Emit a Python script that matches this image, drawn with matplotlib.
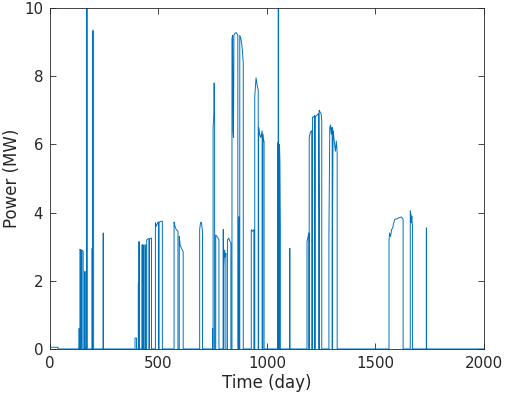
import numpy as np
import matplotlib
matplotlib.use('Agg')
import matplotlib.pyplot as plt

# Power bursts: each burst is a list of (day, MW) knots,
# the signal sits at zero between bursts
burst_days = [
    [0, 37],
    [134, 135],
    [138, 140, 142], [144, 145], [147, 150, 153],
    [160, 162],
    [168, 172],
    [194, 195], [196, 198, 201],
    [245, 246],
    [392, 399],
    [407, 409], [410, 411],
    [424, 426], [428, 430],
    [437, 441],
    [446, 450, 456],
    [459, 463, 468],
    [486, 490, 493, 496, 500],
    [503, 510, 518],
    [572, 576, 582, 590],
    [596, 600, 606, 614],
    [690, 694, 698, 703],
    [749, 750], [752, 755, 757, 759],
    [764, 770, 779],
    [798, 800], [802, 805, 808, 811],
    [818, 824, 830, 834],
    [839, 842, 844, 846, 848, 852, 858, 866],
    [870, 872],
    [875, 880, 885, 891],
    [928, 934, 940],
    [944, 947, 950, 956, 960],
    [962, 966, 972, 978],
    [981, 984, 987],
    [1050, 1051], [1052, 1054], [1055, 1057], [1058, 1060, 1062],
    [1105, 1106],
    [1185, 1190, 1194],
    [1195, 1200, 1207],
    [1210, 1215, 1221],
    [1222, 1230, 1238, 1240],
    [1241, 1245, 1250, 1253],
    [1286, 1290, 1293, 1297, 1301],
    [1302, 1305, 1307, 1312, 1316, 1320, 1324],
    [1563, 1566, 1570, 1575, 1580, 1585, 1590, 1600, 1610, 1620, 1628],
    [1661, 1664, 1666, 1668, 1671],
    [1735, 1736],
]
burst_power = [
    [0.05, 0.05],
    [0.6, 0.6],
    [2.92, 2.9, 2.9], [2.9, 2.9], [2.9, 2.88, 2.86],
    [2.27, 2.27],
    [10.3, 10.3],
    [2.95, 2.95], [9.3, 9.35, 9.3],
    [3.4, 3.4],
    [0.32, 0.32],
    [1.93, 1.93], [3.15, 3.15],
    [3.05, 3.05], [3.05, 3.05],
    [3.05, 3.05],
    [3.2, 3.22, 3.23],
    [3.23, 3.24, 3.25],
    [3.7, 3.6, 3.65, 3.7, 3.72],
    [3.72, 3.74, 3.75],
    [3.72, 3.6, 3.5, 3.45],
    [3.3, 3.05, 2.95, 2.85],
    [3.5, 3.7, 3.72, 3.45],
    [0.6, 0.6], [6.5, 6.8, 7.8, 6.7],
    [3.34, 3.3, 3.2],
    [3.5, 3.5], [2.4, 2.9, 2.7, 2.8],
    [3.2, 3.25, 3.15, 3.1],
    [9.1, 9.2, 6.4, 6.2, 9.2, 9.25, 9.28, 9.2],
    [3.87, 3.87],
    [9.2, 9.1, 8.9, 8.4],
    [3.5, 3.45, 3.5],
    [7.4, 7.7, 7.95, 7.7, 7.6],
    [6.5, 6.3, 6.2, 6.4],
    [6.3, 6.1, 6.1],
    [3.5, 6.05], [10.3, 10.3], [6.0, 3.4], [6.0, 5.5, 3.5],
    [2.95, 2.95],
    [3.15, 3.3, 3.4],
    [6.2, 6.35, 6.4],
    [6.8, 6.8, 6.85],
    [6.8, 6.85, 6.9, 3.6],
    [7.0, 6.95, 6.9, 6.7],
    [3.4, 6.5, 6.57, 6.3, 6.5],
    [2.95, 6.4, 6.3, 6.0, 5.8, 6.1, 5.75],
    [3.2, 3.4, 3.3, 3.5, 3.55, 3.7, 3.8, 3.82, 3.85, 3.87, 3.8],
    [4.05, 3.95, 3.7, 3.9, 3.6],
    [3.55, 3.55],
]

# stitch bursts into one trace that drops to zero in between
t = [0.0]
p = [0.0]
for d, w in zip(burst_days, burst_power):
    t += [d[0]] + d + [d[-1]]
    p += [0.0] + w + [0.0]
t.append(2000.0)
p.append(0.0)

fig = plt.figure(figsize=(5.05, 3.97), dpi=100)
ax = fig.add_axes([0.099, 0.121, 0.859, 0.859])
ax.plot(t, p, color='#0072BD', linewidth=0.7)

ax.set_xlim(0, 2000)
ax.set_ylim(0, 10)
ax.set_xticks([0, 500, 1000, 1500, 2000])
ax.set_yticks([0, 2, 4, 6, 8, 10])
ax.set_xlabel('Time (day)', fontsize=12, color='#262626', labelpad=2)
ax.set_ylabel('Power (MW)', fontsize=12, color='#262626', labelpad=2)
ax.tick_params(direction='in', length=4, width=0.6, top=True, right=True,
               labelsize=10.8, colors='#262626', pad=5)
for s in ax.spines.values():
    s.set_color('#262626')
    s.set_linewidth(0.6)

fig.savefig('out.png', dpi=100)
